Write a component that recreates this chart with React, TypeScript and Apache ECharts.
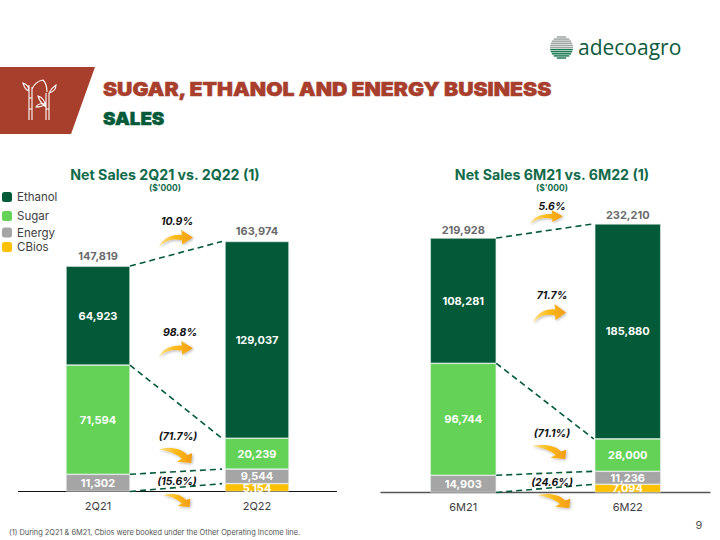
import React, { useEffect, useRef } from "react";
import * as echarts from "echarts";

const FONT = "Inter, 'Open Sans', sans-serif";
const DARK = "#035A38";
const TEXT = "#404040";

const leftCategories = ["2Q21", "2Q22"];
const rightCategories = ["6M21", "6M22"];

const leftCbios = [null, 5154];
const leftEnergy = [11302, 9544];
const leftSugar = [71594, 20239];
const leftEthanol = [64923, 129037];
const leftTotals = [147819, 163974];

const rightCbios = [null, 7094];
const rightEnergy = [14903, 11236];
const rightSugar = [96744, 28000];
const rightEthanol = [108281, 185880];
const rightTotals = [219928, 232210];

const legendNames = ["Ethanol", "Sugar", "Energy", "CBios"];
const seriesColors: Record<string, string> = {
  Ethanol: DARK,
  Sugar: "#63D257",
  Energy: "#A5A5A5",
  CBios: "#FFC000",
};

const fmt = (v: number) => Number(v).toLocaleString("en-US");

const UP = "M0 25 C4 12 14 6 27 7 L26 0 L40 11 L27 21 L27 15 C17 12 7 15 0 25 Z";
const DOWN = "M0 4 C12 -1 27 2 33 13 L39 10 L38 26 L21 24 L27 19 C20 10 10 6 0 4 Z";
const BAMBOO =
  "M7 6 L7 41 M10 8 L10 41 M7 19 L10 19 M7 30 L10 30 M24 14 L24 41 M27 14 L27 41 M24 30 L27 30 " +
  "M7 12 C4 11 2 8 1 4 C4 5 7 8 7 12 M10 10 C12 5 16 2 21 1 C24 4 25 9 25 13 " +
  "M27 14 C29 10 31 8 34 6 C34 10 31 13 27 14 M24 28 C20 25 17 21 16 17 C20 18 23 22 24 28 " +
  "M24 25 C20 28 17 28 14 28 C16 25 20 24 24 25";

echarts.graphic.registerShape("arrowUp", echarts.graphic.extendPath(UP, {}));
echarts.graphic.registerShape("arrowDown", echarts.graphic.extendPath(DOWN, {}));
echarts.graphic.registerShape("bamboo", echarts.graphic.extendPath(BAMBOO, {}));

const arrowFill = () =>
  new echarts.graphic.LinearGradient(0, 0, 1, 0, [
    { offset: 0, color: "#FFE08A" },
    { offset: 0.5, color: "#FDB913" },
    { offset: 1, color: "#F39C12" },
  ]);

function arrow(kind: "arrowUp" | "arrowDown", x: number, y: number, w: number, h: number) {
  return {
    type: kind,
    x,
    y,
    scaleX: w / 40,
    scaleY: h / 26,
    z: 20,
    style: {
      fill: arrowFill(),
      shadowColor: "rgba(0,0,0,0.3)",
      shadowBlur: 3,
      shadowOffsetX: 1,
      shadowOffsetY: 1,
    },
  };
}

function pct(text: string, x: number, y: number) {
  return {
    type: "text",
    x,
    y,
    z: 21,
    style: {
      text,
      fill: "#111",
      font: `italic 700 10.5px ${FONT}`,
      textAlign: "center",
      textVerticalAlign: "middle",
    },
  };
}

function globeLines() {
  const cx = 561.5;
  const cy = 47.5;
  const r = 11.5;
  const out: any[] = [];
  for (let dy = -10.5; dy <= 10.5; dy += 2.1) {
    const half = Math.sqrt(r * r - dy * dy);
    const lower = dy > 1;
    out.push({
      type: "line",
      shape: { x1: cx - half, y1: cy + dy, x2: cx + half, y2: cy + dy },
      style: { stroke: lower ? "#1E7A55" : "#9DA5A2", lineWidth: 1.5 },
      z: 20,
    });
  }
  return out;
}

function stackSeries(name: string, values: (number | null)[], axis: number, barWidth: number) {
  return {
    name,
    type: "bar",
    stack: `s${axis}`,
    xAxisIndex: axis,
    yAxisIndex: axis,
    barWidth,
    data: values,
    itemStyle: { color: seriesColors[name], borderColor: "#E4EFE9", borderWidth: 0.6 },
    label: {
      show: true,
      position: "inside",
      color: "#fff",
      fontFamily: FONT,
      fontWeight: 700,
      fontSize: 11,
      formatter: (p: any) => fmt(p.value),
    },
  };
}

function totalSeries(values: number[], axis: number, distance: number) {
  return {
    name: `total${axis}`,
    type: "scatter",
    xAxisIndex: axis,
    yAxisIndex: axis,
    symbolSize: 0,
    data: values,
    z: 5,
    label: {
      show: true,
      position: "top",
      distance,
      color: TEXT,
      fontFamily: FONT,
      fontWeight: 700,
      fontSize: 11,
      formatter: (p: any) => fmt(p.value),
    },
  };
}

function connectorSeries(
  axis: number,
  halfBar: number,
  endGap: number,
  cbios: (number | null)[],
  energy: number[],
  sugar: number[],
  totals: number[]
) {
  const top = (i: number) => (cbios[i] || 0) + energy[i];
  const data = [
    [totals[0], totals[1]],
    [top(0) + sugar[0], top(1) + sugar[1]],
    [top(0), top(1)],
    [0, cbios[1] || 0],
  ];
  return {
    name: `links${axis}`,
    type: "custom",
    xAxisIndex: axis,
    yAxisIndex: axis,
    clip: false,
    z: 6,
    data,
    renderItem: (_: any, api: any) => {
      const a = api.coord([0, api.value(0)]);
      const b = api.coord([1, api.value(1)]);
      return {
        type: "line",
        shape: { x1: a[0] + halfBar, y1: a[1], x2: b[0] - halfBar - endGap, y2: b[1] },
        style: { stroke: DARK, lineWidth: 1.6, lineDash: [6, 4], fill: null },
      };
    },
  };
}

const legendTops = [191, 210, 226.5, 241];

export default function App() {
  const ref = useRef<HTMLDivElement>(null);
  useEffect(() => {
    const chart = echarts.init(ref.current!, null, { renderer: "svg" });
    const axisCommon = {
      type: "category",
      axisTick: { show: false },
      axisLabel: { color: TEXT, fontFamily: FONT, fontSize: 11, margin: 9 },
    };
    const titleStyle = (size: number) => ({
      color: "#116B4A",
      fontFamily: FONT,
      fontWeight: 700,
      fontSize: size,
    });
    chart.setOption({
      animation: false,
      backgroundColor: "#fff",
      title: [
        { text: "Net Sales 2Q21 vs. 2Q22 (1)", left: 165, top: 167, padding: 0, textAlign: "center", textStyle: titleStyle(14.2) },
        { text: "($'000)", left: 165, top: 183.5, padding: 0, textAlign: "center", textStyle: titleStyle(8.5) },
        { text: "Net Sales 6M21 vs. 6M22 (1)", left: 552, top: 167, padding: 0, textAlign: "center", textStyle: titleStyle(14.2) },
        { text: "($'000)", left: 552, top: 183.5, padding: 0, textAlign: "center", textStyle: titleStyle(8.5) },
      ],
      legend: legendNames.map((n, i) => ({
        data: [n],
        left: 2,
        top: legendTops[i],
        itemWidth: 10,
        itemHeight: 10,
        padding: 0,
        selectedMode: false,
        itemStyle: { borderWidth: 0 },
        textStyle: { color: TEXT, fontFamily: FONT, fontSize: 11.5 },
      })),
      grid: [
        { left: 18.5, width: 318, top: 186.5, height: 305 },
        { left: 381, width: 329, top: 203.25, height: 289.25 },
      ],
      xAxis: [
        { ...axisCommon, gridIndex: 0, data: leftCategories, axisLine: { show: true, lineStyle: { color: "#111", width: 1.2 } } },
        { ...axisCommon, gridIndex: 1, data: rightCategories, axisLine: { show: true, lineStyle: { color: "#555", width: 1.4 } } },
      ],
      yAxis: [
        { type: "value", gridIndex: 0, min: 0, max: 200000, show: false },
        { type: "value", gridIndex: 1, min: 0, max: 250000, show: false },
      ],
      series: [
        stackSeries("CBios", leftCbios, 0, 64),
        stackSeries("Energy", leftEnergy, 0, 64),
        stackSeries("Sugar", leftSugar, 0, 64),
        stackSeries("Ethanol", leftEthanol, 0, 64),
        totalSeries(leftTotals, 0, 5),
        connectorSeries(0, 32, 3, leftCbios, leftEnergy, leftSugar, leftTotals),
        stackSeries("CBios", rightCbios, 1, 66),
        stackSeries("Energy", rightEnergy, 1, 66),
        stackSeries("Sugar", rightSugar, 1, 66),
        stackSeries("Ethanol", rightEthanol, 1, 66),
        totalSeries(rightTotals, 1, 3),
        connectorSeries(1, 33, 1, rightCbios, rightEnergy, rightSugar, rightTotals),
      ],
      graphic: [
        {
          type: "polygon",
          shape: { points: [[0, 67], [95, 67], [71, 134], [0, 134]] },
          style: { fill: "#A83E2C" },
        },
        {
          type: "bamboo",
          x: 22,
          y: 79,
          scaleX: 1,
          scaleY: 1,
          style: { fill: "none", stroke: "#fff", lineWidth: 1.1 },
        },
        {
          type: "text",
          x: 103,
          y: 89,
          scaleX: 1.117,
          style: {
            text: "SUGAR, ETHANOL AND ENERGY BUSINESS",
            fill: "#A83E2C",
            stroke: "#A83E2C",
            lineWidth: 0.5,
            font: `900 19px ${FONT}`,
            textVerticalAlign: "middle",
          },
        },
        {
          type: "text",
          x: 103,
          y: 118,
          scaleX: 1.04,
          style: {
            text: "SALES",
            fill: DARK,
            stroke: DARK,
            lineWidth: 0.5,
            font: `900 18px ${FONT}`,
            textVerticalAlign: "middle",
          },
        },
        ...globeLines(),
        {
          type: "text",
          x: 578,
          y: 47,
          style: {
            text: "adecoagro",
            fill: "#0B5A3B",
            font: `400 21px 'Open Sans', sans-serif`,
            textVerticalAlign: "middle",
          },
        },
        arrow("arrowUp", 159, 230, 34, 18),
        arrow("arrowUp", 159, 341, 34, 17),
        arrow("arrowDown", 159, 447, 34, 16),
        arrow("arrowDown", 163, 493, 28, 14),
        arrow("arrowUp", 530, 210, 33, 15),
        arrow("arrowUp", 533, 304, 33, 20),
        arrow("arrowDown", 532, 444, 35, 15),
        arrow("arrowDown", 537, 493, 34, 15),
        pct("10.9%", 177, 221),
        pct("98.8%", 180, 332),
        pct("(71.7%)", 178, 436),
        pct("(15.6%)", 177, 481),
        pct("5.6%", 552, 206),
        pct("71.7%", 552, 295),
        pct("(71.1%)", 552, 433),
        pct("(24.6%)", 552, 482),
        {
          type: "text",
          x: 9,
          y: 532,
          style: {
            text: "(1) During 2Q21 & 6M21, Cbios were booked under the Other Operating Income line.",
            fill: "#555",
            font: `400 7.4px ${FONT}`,
            textVerticalAlign: "middle",
          },
        },
        {
          type: "text",
          x: 699,
          y: 525,
          style: {
            text: "9",
            fill: "#555",
            font: `400 11px ${FONT}`,
            textAlign: "center",
            textVerticalAlign: "middle",
          },
        },
      ],
    });
    return () => chart.dispose();
  }, []);
  return (
    <div
      ref={ref}
      style={{ position: "absolute", left: 0, top: 0, width: 720, height: 540, background: "#fff" }}
    />
  );
}
